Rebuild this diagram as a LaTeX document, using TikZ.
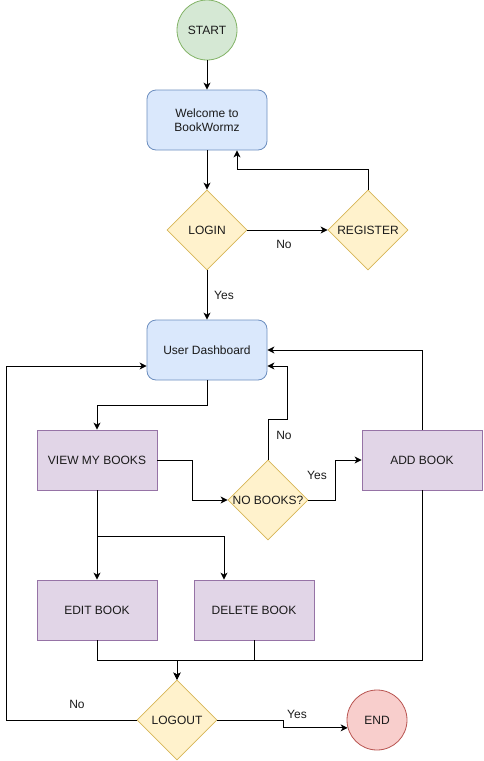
\documentclass[tikz,border=0pt]{standalone}
\usepackage{fontspec}
\setmainfont{Liberation Sans}
\usetikzlibrary{shapes.geometric,arrows.meta}
\definecolor{greenf}{HTML}{D5E8D4}\definecolor{greens}{HTML}{82B366}
\definecolor{bluef}{HTML}{DAE8FC}\definecolor{blues}{HTML}{6C8EBF}
\definecolor{yellf}{HTML}{FFF2CC}\definecolor{yells}{HTML}{D6B656}
\definecolor{purpf}{HTML}{E1D5E7}\definecolor{purps}{HTML}{9673A6}
\definecolor{redf}{HTML}{F8CECC}\definecolor{reds}{HTML}{B85450}
\definecolor{txt}{HTML}{1A1A1A}
\tikzset{
  base/.style={font=\fontsize{12}{14}\selectfont, text=txt, inner sep=0pt, line width=0.8pt},
  circ/.style={base, circle, minimum size=60pt},
  startc/.style={circ, fill=greenf, draw=greens},
  endc/.style={circ, fill=redf, draw=reds},
  rbox/.style={base, rectangle, rounded corners=9pt, minimum width=120pt, minimum height=60pt, fill=bluef, draw=blues, align=center},
  pbox/.style={base, rectangle, minimum width=120pt, minimum height=60pt, fill=purpf, draw=purps},
  dia/.style={base, diamond, aspect=1, minimum width=80pt, minimum height=80pt, fill=yellf, draw=yells},
  arr/.style={draw, line width=1pt, -{Stealth[length=7pt,width=7pt,inset=2pt]}},
  ln/.style={draw, line width=1pt},
  lab/.style={font=\fontsize{12}{14}\selectfont, text=txt, inner sep=0pt}
}
\begin{document}
\begin{tikzpicture}[x=1pt,y=-1pt]
\useasboundingbox (0,0) rectangle (483,761);
\node[startc] (start) at (207,30) {START};
\node[rbox] (welcome) at (207,120) {Welcome to\\BookWormz};
\node[dia] (login) at (207,230) {\makebox[0pt]{LOGIN}};
\node[dia] (reg) at (368,230) {\makebox[0pt]{REGISTER}};
\node[rbox] (dash) at (207,350) {User Dashboard};
\node[pbox] (view) at (97,460) {VIEW MY BOOKS};
\node[dia] (nob) at (268,500) {\makebox[0pt]{NO BOOKS?}};
\node[pbox] (add) at (422,460) {ADD BOOK};
\node[pbox] (edit) at (97,610) {EDIT BOOK};
\node[pbox] (del) at (254,610) {DELETE BOOK};
\node[dia] (logout) at (177,720) {\makebox[0pt]{LOGOUT}};
\node[endc] (end) at (377,720) {END};

\draw[arr] (start.south) -- (welcome.north);
\draw[arr] (welcome.south) -- (login.north);
\draw[arr] (login.east) -- (reg.west);
\node[lab] (lno) at (284,244) {No};
\draw[arr] (reg.north) -- ++(0,-20) -| ([xshift=30pt]welcome.south);
\draw[arr] (login.south) -- (dash.north);
\node[lab] (lyes) at (224,295) {Yes};
\draw[arr] (dash.south) -- ++(0,25) -| (view.north);
\draw[arr] (view.east) -- ++(35,0) |- (nob.west);
\draw[arr] (nob.north) -- ++(0,-40) -- ++(19,0) |- ([yshift=-16pt]dash.east);
\node[lab] (nbno) at (284,435) {No};
\draw[arr] (nob.east) -- ++(27,0) |- (add.west);
\node[lab] (nbyes) at (317,475) {Yes};
\draw[arr] (add.north) |- (dash.east);
\draw[arr] (view.south) -- (edit.north);
\draw[arr] (view.south) ++(0,46) -| ([xshift=-30pt]del.north);
\draw[arr] (edit.south) -- ++(0,20) -| (logout.north);
\draw[arr] (del.south) -- ++(0,20) -| (logout.north);
\draw[arr] (add.south) -- ++(0,170) -| (logout.north);
\draw[arr] (logout.west) -- ++(-130,0) |- ([yshift=-16pt]dash.west);
\node[lab] (loutno) at (77,704) {No};
\draw[arr] (logout.east) -- ++(66,0) |- (end.195);
\node[lab] (loutyes) at (297,714) {Yes};
\end{tikzpicture}
\end{document}
